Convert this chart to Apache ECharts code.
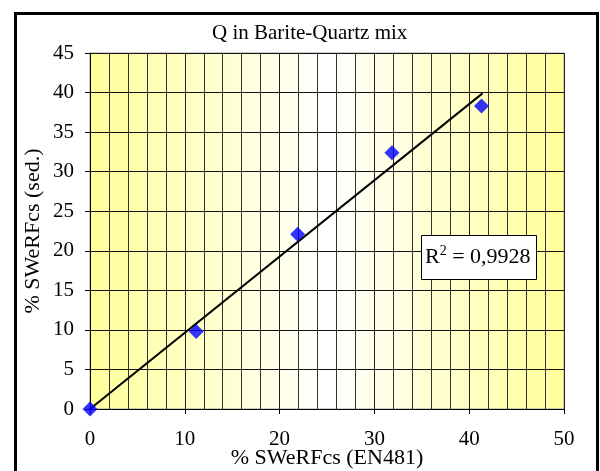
<!DOCTYPE html>
<html><head><meta charset="utf-8">
<script src="https://cdn.jsdelivr.net/npm/echarts@6/dist/echarts.min.js"></script>
<style>html,body{margin:0;padding:0;background:#fff}#c{width:600px;height:471px}</style>
</head><body><div id="c"></div>
<script>
const titleText = 'Q in Barite-Quartz mix';
const xName = '% SWeRFcs (EN481)';
const yName = '% SWeRFcs (sed.)';
const xValues = [0, 11.2, 21.9, 31.85, 41.3];
const yValues = [0, 9.8, 22.1, 32.4, 38.3];
const trendX = [0, 41.4];
const trendY = [0, 39.9];
const r2Label = '0,9928';

const F = '"Liberation Serif","Times New Roman",serif';
const chart = echarts.init(document.getElementById('c'), null, {renderer:'canvas'});
chart.setOption({
  animation:false,
  backgroundColor:'#fff',
  title:{text:titleText,left:207,top:18,textStyle:{fontFamily:F,fontSize:21,fontWeight:'normal',color:'#000'}},
  grid:{left:90,right:36,top:53,bottom:62,containLabel:false,outerBoundsMode:'none',show:true,borderColor:'#a0a0a0',borderWidth:1,
    backgroundColor:{type:'linear',x:0,y:0,x2:1,y2:0,colorStops:[
      {offset:0,color:'#FFFF99'},{offset:0.5,color:'#FFFFFF'},{offset:1,color:'#FFFF99'}]}},
  xAxis:{type:'value',min:0,max:50,interval:10,
    name:xName,nameLocation:'middle',nameGap:38,nameMoveOverlap:false,
    nameTextStyle:{fontFamily:F,fontSize:22,color:'#000'},
    axisLine:{show:true,onZero:false,lineStyle:{color:'#000',width:1}},
    axisTick:{show:true,length:5,lineStyle:{color:'#000'}},
    axisLabel:{fontFamily:F,fontSize:21,color:'#000',margin:20},
    splitLine:{show:true,lineStyle:{color:'#222',width:1}},
    minorTick:{show:false,splitNumber:5},
    minorSplitLine:{show:true,lineStyle:{color:'#333',width:1}}},
  yAxis:{type:'value',min:0,max:45,interval:5,
    name:yName,nameLocation:'middle',nameGap:46,nameMoveOverlap:false,
    nameTextStyle:{fontFamily:F,fontSize:22,color:'#000'},
    axisLine:{show:true,onZero:false,lineStyle:{color:'#000',width:1}},
    axisTick:{show:true,length:5,lineStyle:{color:'#000'}},
    axisLabel:{fontFamily:F,fontSize:21,color:'#000',margin:16},
    splitLine:{show:true,lineStyle:{color:'#111',width:1}}},
  series:[
    {type:'line',data:trendX.map((x,i)=>[x,trendY[i]]),symbol:'none',
      lineStyle:{color:'#000',width:2},z:3},
    {type:'scatter',data:xValues.map((x,i)=>[x,yValues[i]]),symbol:'diamond',symbolSize:15,
      itemStyle:{color:'#0000FF'},z:4}
  ],
  graphic:[
    {type:'rect',left:13,top:11,shape:{width:582,height:470},style:{fill:'none',stroke:'#000',lineWidth:3},silent:true,z:100},
    {type:'rect',left:421,top:235,shape:{width:115,height:44},style:{fill:'#fff',stroke:'#000',lineWidth:1},z:50},
    {type:'text',left:425,top:244,z:51,style:{text:'{r|R}{s|2}{r| = '+r2Label+'}',
      rich:{r:{fontFamily:F,fontSize:22,fill:'#000',verticalAlign:'bottom'},
            s:{fontFamily:F,fontSize:14,fill:'#000',verticalAlign:'top',padding:[0,0,10,0]}}}}
  ]
});
</script></body></html>
